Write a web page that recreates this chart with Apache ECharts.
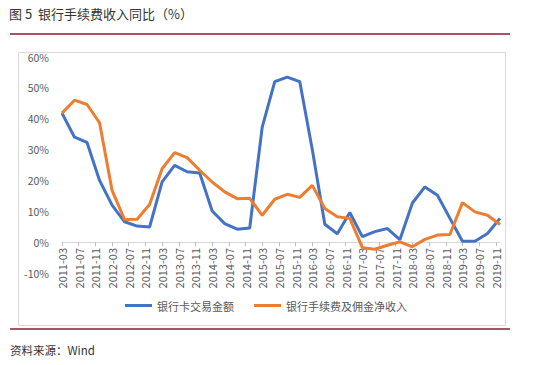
<!DOCTYPE html>
<html><head><meta charset="utf-8">
<script src="https://cdn.jsdelivr.net/npm/echarts@6/dist/echarts.min.js"></script>
<style>html,body{margin:0;padding:0;background:#fff}#c{width:535px;height:365px}</style>
</head><body><div id="c"></div>
<script>
var quarters = ['2011-03','2011-06','2011-09','2011-12','2012-03','2012-06','2012-09','2012-12',
'2013-03','2013-06','2013-09','2013-12','2014-03','2014-06','2014-09','2014-12',
'2015-03','2015-06','2015-09','2015-12','2016-03','2016-06','2016-09','2016-12',
'2017-03','2017-06','2017-09','2017-12','2018-03','2018-06','2018-09','2018-12',
'2019-03','2019-06','2019-09','2019-12'];
var cardTrade = [41.8,34.0,32.3,20.0,12.0,6.6,5.2,4.9,19.5,24.9,22.8,22.4,10.1,6.0,4.2,4.6,
37.3,52.0,53.5,52.0,30.0,5.8,2.7,9.6,1.8,3.4,4.4,0.8,12.7,17.9,15.2,7.7,0.3,0.3,2.8,7.7];
var feeIncome = [41.8,46.0,44.6,38.7,16.8,7.3,7.4,12.2,23.8,29.0,27.4,23.3,19.5,16.3,14.1,14.2,
8.7,13.9,15.5,14.5,18.4,10.9,8.2,7.7,-1.8,-2.3,-1.0,0.1,-1.5,0.9,2.3,2.5,12.8,9.8,8.7,5.7];
var seriesNames = ['银行卡交易金额','银行手续费及佣金净收入'];
var yTicks = {min:-10, max:60, interval:10};
var titleText = '图 5  银行手续费收入同比（%）';
var sourceText = '资料来源：Wind';

// monthly category axis from first to last quarter
var months = [];
for (var y = 2011; y <= 2019; y++) {
  for (var m = 1; m <= 12; m++) {
    if (y === 2011 && m < 3) continue;
    months.push(y + '-' + (m < 10 ? '0' + m : '' + m));
  }
}
function pairs(vals){ return quarters.map(function(q,i){ return [q, vals[i]]; }); }

var font = 'Noto Sans CJK SC';
var chart = echarts.init(document.getElementById('c'), null, {renderer:'svg'});
chart.setOption({
  animation:false,
  textStyle:{fontFamily:font},
  title:{text:titleText, left:9, top:7, padding:0, textStyle:{fontSize:13, fontWeight:'normal', color:'#333', fontFamily:font}},
  graphic:[
    {type:'line', shape:{x1:10,y1:34,x2:510,y2:34}, style:{stroke:'#8b1c2c', lineWidth:1.5}},
    {type:'rect', shape:{x:18.5,y:52.5,width:487,height:273}, style:{fill:'none', stroke:'#d9d9d9', lineWidth:1}, z:-1},
    {type:'line', shape:{x1:10,y1:329,x2:510,y2:329}, style:{stroke:'#8b1c2c', lineWidth:1.5}},
    {type:'text', left:10, top:344, style:{text:sourceText, fontSize:11.5, fill:'#333', fontFamily:font}}
  ],
  grid:{left:62, right:35, top:57, bottom:92},
  legend:{left:125, top:300, padding:0, itemWidth:27, itemHeight:3, itemGap:20, icon:'rect',
    textStyle:{fontSize:11, color:'#595959', fontFamily:font},
    data:seriesNames},
  xAxis:{type:'category', data:months, boundaryGap:false,
    axisLine:{onZero:true, lineStyle:{color:'#d9d9d9'}},
    axisTick:{interval:3, length:4, lineStyle:{color:'#bfbfbf'}},
    axisLabel:{interval:3, rotate:90, fontSize:11, color:'#595959', margin:-25, fontFamily:font},
    splitLine:{show:false}},
  yAxis:{type:'value', min:yTicks.min, max:yTicks.max, interval:yTicks.interval,
    axisLine:{show:false}, axisTick:{show:false}, splitLine:{show:false},
    axisLabel:{formatter:'{value}%', fontSize:10.5, color:'#595959', margin:13, fontFamily:font}},
  series:[
    {name:seriesNames[0], type:'line', data:pairs(cardTrade), showSymbol:false, symbol:'none',
     lineStyle:{width:3, color:'#4472C4'}, itemStyle:{color:'#4472C4'}},
    {name:seriesNames[1], type:'line', data:pairs(feeIncome), showSymbol:false, symbol:'none',
     lineStyle:{width:3, color:'#ED7D31'}, itemStyle:{color:'#ED7D31'}}
  ]
});
</script></body></html>
